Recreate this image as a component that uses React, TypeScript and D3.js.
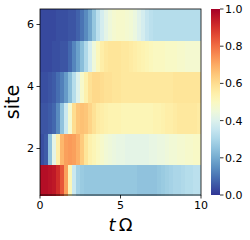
import * as d3 from "d3";
import { useEffect, useRef } from "react";

// time grid (tΩ), one cell starts at each value, width 0.25
const times = [
  0, 0.25, 0.5, 0.75, 1, 1.25, 1.5, 1.75, 2, 2.25, 2.5, 2.75, 3, 3.25, 3.5, 3.75,
  4, 4.25, 4.5, 4.75, 5, 5.25, 5.5, 5.75, 6, 6.25, 6.5, 6.75, 7, 7.25, 7.5, 7.75,
  8, 8.25, 8.5, 8.75, 9, 9.25, 9.5, 9.75,
];
const step = 0.25;

const sites = [1, 2, 3, 4, 5, 6];

const site1 = [
  0.97, 0.97, 0.96, 0.95, 0.91, 0.84, 0.72, 0.52, 0.36, 0.29, 0.27, 0.26, 0.26, 0.26, 0.26, 0.26,
  0.26, 0.26, 0.26, 0.26, 0.26, 0.26, 0.26, 0.26, 0.25, 0.25, 0.25, 0.25, 0.25, 0.26, 0.27, 0.28,
  0.29, 0.3, 0.3, 0.31, 0.32, 0.32, 0.33, 0.33,
];
const site2 = [
  0.04, 0.06, 0.25, 0.42, 0.55, 0.68, 0.72, 0.73, 0.72, 0.69, 0.64, 0.58, 0.54, 0.52, 0.5, 0.48,
  0.46, 0.45, 0.44, 0.43, 0.43, 0.42, 0.42, 0.42, 0.42, 0.42, 0.42, 0.43, 0.43, 0.44, 0.44, 0.45,
  0.46, 0.46, 0.47, 0.47, 0.48, 0.48, 0.49, 0.49,
];
const site3 = [
  0.05, 0.05, 0.06, 0.08, 0.14, 0.25, 0.36, 0.47, 0.6, 0.65, 0.66, 0.65, 0.62, 0.59, 0.56, 0.55,
  0.54, 0.53, 0.53, 0.53, 0.52, 0.52, 0.52, 0.52, 0.52, 0.52, 0.52, 0.52, 0.53, 0.53, 0.54, 0.55,
  0.55, 0.56, 0.57, 0.57, 0.57, 0.57, 0.57, 0.56,
];
const site4 = [
  0.04, 0.04, 0.05, 0.06, 0.09, 0.12, 0.17, 0.24, 0.32, 0.4, 0.48, 0.54, 0.59, 0.61, 0.61, 0.6,
  0.59, 0.59, 0.58, 0.58, 0.57, 0.57, 0.57, 0.57, 0.57, 0.57, 0.57, 0.57, 0.57, 0.57, 0.57, 0.57,
  0.57, 0.58, 0.58, 0.58, 0.58, 0.58, 0.58, 0.58,
];
const site5 = [
  0.03, 0.03, 0.03, 0.04, 0.04, 0.05, 0.05, 0.08, 0.13, 0.18, 0.24, 0.31, 0.38, 0.45, 0.51, 0.55,
  0.57, 0.58, 0.58, 0.58, 0.57, 0.57, 0.56, 0.55, 0.54, 0.53, 0.52, 0.51, 0.5, 0.5, 0.5, 0.49,
  0.49, 0.49, 0.48, 0.48, 0.47, 0.47, 0.47, 0.47,
];
const site6 = [
  0.03, 0.03, 0.03, 0.03, 0.04, 0.04, 0.04, 0.05, 0.05, 0.07, 0.1, 0.14, 0.19, 0.26, 0.33, 0.38,
  0.42, 0.45, 0.47, 0.48, 0.48, 0.47, 0.46, 0.44, 0.41, 0.38, 0.35, 0.33, 0.32, 0.32, 0.32, 0.32,
  0.32, 0.32, 0.32, 0.32, 0.32, 0.32, 0.32, 0.32,
];
const rows = [site1, site2, site3, site4, site5, site6];

const xTicks = [0, 5, 10];
const yTicks = [2, 4, 6];
const cbTicks = [0, 0.2, 0.4, 0.6, 0.8, 1.0];

export default function App() {
  const ref = useRef<SVGSVGElement>(null);

  useEffect(() => {
    const svg = d3.select(ref.current);
    svg.selectAll("*").remove();

    const left = 40, right = 201, top = 9, bottom = 195;
    const font = "DejaVu Sans, sans-serif";

    const x = d3.scaleLinear().domain([0, 10]).range([left, right]);
    const y = d3.scaleBand<number>().domain([...sites].reverse()).range([top, bottom]);
    const color = (v: number) => d3.interpolateRdYlBu(1 - v);

    // heatmap cells
    const cells = rows.flatMap((vals, i) =>
      vals.map((v, j) => ({ site: sites[i], t: times[j], v }))
    );
    svg.append("g")
      .selectAll("rect")
      .data(cells)
      .join("rect")
      .attr("x", (d) => x(d.t))
      .attr("y", (d) => y(d.site)!)
      .attr("width", (d) => x(Math.min(d.t + step, 10)) - x(d.t) + (d.t + step < 10 ? 0.5 : 0))
      .attr("height", y.bandwidth() + 0.5)
      .attr("fill", (d) => color(d.v))
      .attr("shape-rendering", "crispEdges");

    svg.append("rect")
      .attr("x", left).attr("y", top)
      .attr("width", right - left).attr("height", bottom - top)
      .attr("fill", "none").attr("stroke", "#000").attr("stroke-width", 0.8);

    // x axis
    const xa = svg.append("g").attr("font-family", font).attr("font-size", 11);
    xTicks.forEach((t) => {
      xa.append("line").attr("x1", x(t)).attr("x2", x(t)).attr("y1", bottom).attr("y2", bottom + 3.5)
        .attr("stroke", "#000").attr("stroke-width", 0.8);
      xa.append("text").attr("x", x(t)).attr("y", bottom + 14).attr("text-anchor", "middle").text(t);
    });

    // y axis
    const ya = svg.append("g").attr("font-family", font).attr("font-size", 11);
    yTicks.forEach((s) => {
      const cy = y(s)! + y.bandwidth() / 2;
      ya.append("line").attr("x1", left - 3.5).attr("x2", left).attr("y1", cy).attr("y2", cy)
        .attr("stroke", "#000").attr("stroke-width", 0.8);
      ya.append("text").attr("x", left - 6).attr("y", cy).attr("dy", "0.36em")
        .attr("text-anchor", "end").text(s);
    });

    // axis labels
    svg.append("text")
      .attr("transform", `translate(19,${(top + bottom) / 2}) rotate(-90)`)
      .attr("text-anchor", "middle").attr("font-family", font).attr("font-size", 19)
      .text("site");
    const xl = svg.append("text")
      .attr("x", (left + right) / 2).attr("y", 231)
      .attr("text-anchor", "middle").attr("font-family", font).attr("font-size", 18);
    xl.append("tspan").attr("font-style", "italic").text("t");
    xl.append("tspan").attr("dx", 3).text("Ω");

    // colorbar
    const cbx = 211, cbw = 9;
    const cy = d3.scaleLinear().domain([0, 1]).range([bottom, top]);
    const defs = svg.append("defs");
    const grad = defs.append("linearGradient").attr("id", "cb")
      .attr("x1", 0).attr("y1", 1).attr("x2", 0).attr("y2", 0);
    d3.range(0, 1.0001, 0.05).forEach((s) => {
      grad.append("stop").attr("offset", s).attr("stop-color", color(s));
    });
    svg.append("rect").attr("x", cbx).attr("y", top).attr("width", cbw).attr("height", bottom - top)
      .attr("fill", "url(#cb)");
    const ca = svg.append("g").attr("font-family", font).attr("font-size", 11);
    cbTicks.forEach((v) => {
      ca.append("line").attr("x1", cbx + cbw).attr("x2", cbx + cbw + 3.5).attr("y1", cy(v)).attr("y2", cy(v))
        .attr("stroke", "#000").attr("stroke-width", 0.8);
      ca.append("text").attr("x", cbx + cbw + 5).attr("y", cy(v)).attr("dy", "0.36em")
        .text(d3.format(".1f")(v));
    });
  }, []);

  return (
    <svg ref={ref} width={250} height={240}
      style={{ position: "absolute", left: 0, top: 0, background: "#fff" }} />
  );
}
